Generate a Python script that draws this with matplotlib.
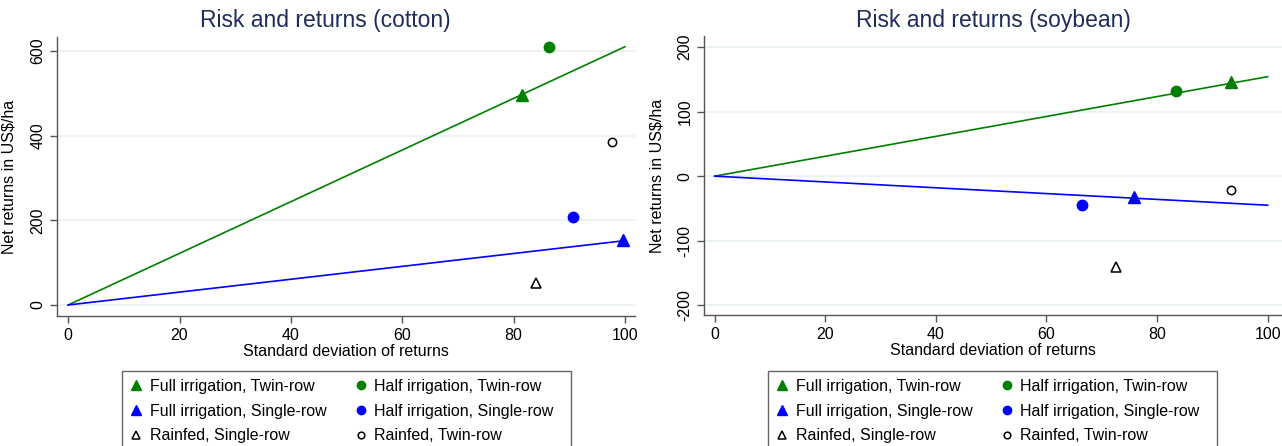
import matplotlib
matplotlib.use("Agg")
import matplotlib.pyplot as plt
from matplotlib.lines import Line2D
from matplotlib.patches import Rectangle

plt.rcParams["font.family"] = ["Liberation Sans", "DejaVu Sans"]
plt.rcParams["axes.unicode_minus"] = False

# strategies, in legend order (column by column)
labels = [
    "Full irrigation, Twin-row",
    "Full irrigation, Single-row",
    "Rainfed, Single-row",
    "Half irrigation, Twin-row",
    "Half irrigation, Single-row",
    "Rainfed, Twin-row",
]

# cotton: std dev of returns, net returns
cotton_sd = [81.5, 99.7, 84.1, 86.3, 90.7, 97.6]
cotton_ret = [497, 153, 52, 609, 208, 384]

# soybean
soy_sd = [93.4, 75.9, 72.5, 83.4, 66.5, 93.4]
soy_ret = [145, -32, -141, 132, -45, -21]

# reference lines from the origin
line_x = [0, 100]
cotton_green_line = [0, 610]
cotton_blue_line = [0, 152]
soy_green_line = [0, 154]
soy_blue_line = [0, -45]

green = "#008000"
blue = "#0000ff"
styles = [
    dict(marker="^", color=green, mec=green, ms=8.5),
    dict(marker="^", color=blue, mec=blue, ms=8.5),
    dict(marker="^", color="none", mec="black", ms=6.5, mew=1.1),
    dict(marker="o", color=green, mec=green, ms=7.5),
    dict(marker="o", color=blue, mec=blue, ms=7.5),
    dict(marker="o", color="none", mec="black", ms=6, mew=1.1),
]

title_color = "#1e2d5c"
grid_color = "#e8f0f2"
spine_color = "#555555"

fig = plt.figure(figsize=(12.82, 4.46), dpi=100)
ax1 = fig.add_axes([0.0445, 0.2915, 0.4508, 0.6256])
ax2 = fig.add_axes([0.5495, 0.2937, 0.4505, 0.6256])


def draw(ax, sd, ret, gline, bline, yticks, xlim, ylim, title, title_x, legend_x):
    ax.plot(line_x, gline, color=green, lw=1.2, zorder=2)
    ax.plot(line_x, bline, color=blue, lw=1.2, zorder=2)
    for x, y, st in zip(sd, ret, styles):
        ax.plot([x], [y], linestyle="none", zorder=3, **st)
    ax.set_xlim(*xlim)
    ax.set_ylim(*ylim)
    ax.set_xticks([0, 20, 40, 60, 80, 100])
    ax.set_yticks(yticks)
    ax.yaxis.grid(True, color=grid_color, lw=1.2)
    ax.set_axisbelow(True)
    for s in ["top", "right"]:
        ax.spines[s].set_visible(False)
    for s in ["left", "bottom"]:
        ax.spines[s].set_color(spine_color)
        ax.spines[s].set_linewidth(1.0)
    ax.tick_params(colors=spine_color, labelcolor="black", labelsize=11.5,
                   length=5, width=1.0)
    for t in ax.get_yticklabels():
        t.set_rotation(90)
        t.set_va("center")
    ax.set_xlabel("Standard deviation of returns", fontsize=11.5, labelpad=1)
    ax.set_ylabel("Net returns in US$/ha", fontsize=11.5)
    ax.yaxis.set_label_coords(-0.07, 0.5)
    fig.text(title_x, 0.955, title, ha="center", va="center",
             fontsize=16.5, color=title_color)
    # legend frame runs off the bottom of the figure, as in the original
    fig.patches.append(Rectangle((legend_x, -0.1), 0.350, 0.1 + 75 / 446,
                                 transform=fig.transFigure, fill=False,
                                 edgecolor="#666666", lw=1.0))
    handles = [Line2D([], [], linestyle="none", **{**st, "ms": st["ms"] * 0.8})
               for st in styles]
    fig.legend(handles, labels, ncol=2, loc="upper left",
               bbox_to_anchor=(legend_x, 0.0, 0.343, 0.168),
               mode="expand", fontsize=11.5, frameon=False,
               handlelength=0.8, handletextpad=0.45,
               labelspacing=0.6, borderpad=0.5, columnspacing=1.5,
               borderaxespad=0)


draw(ax1, cotton_sd, cotton_ret, cotton_green_line, cotton_blue_line,
     [0, 200, 400, 600], (-2.0, 101.8), (-26, 633),
     "Risk and returns (cotton)", 325 / 1282, 122 / 1282)
draw(ax2, soy_sd, soy_ret, soy_green_line, soy_blue_line,
     [-200, -100, 0, 100, 200], (-1.85, 102.6), (-215, 217),
     "Risk and returns (soybean)", 993 / 1282, 768 / 1282)

fig.savefig("out.png", dpi=100)
